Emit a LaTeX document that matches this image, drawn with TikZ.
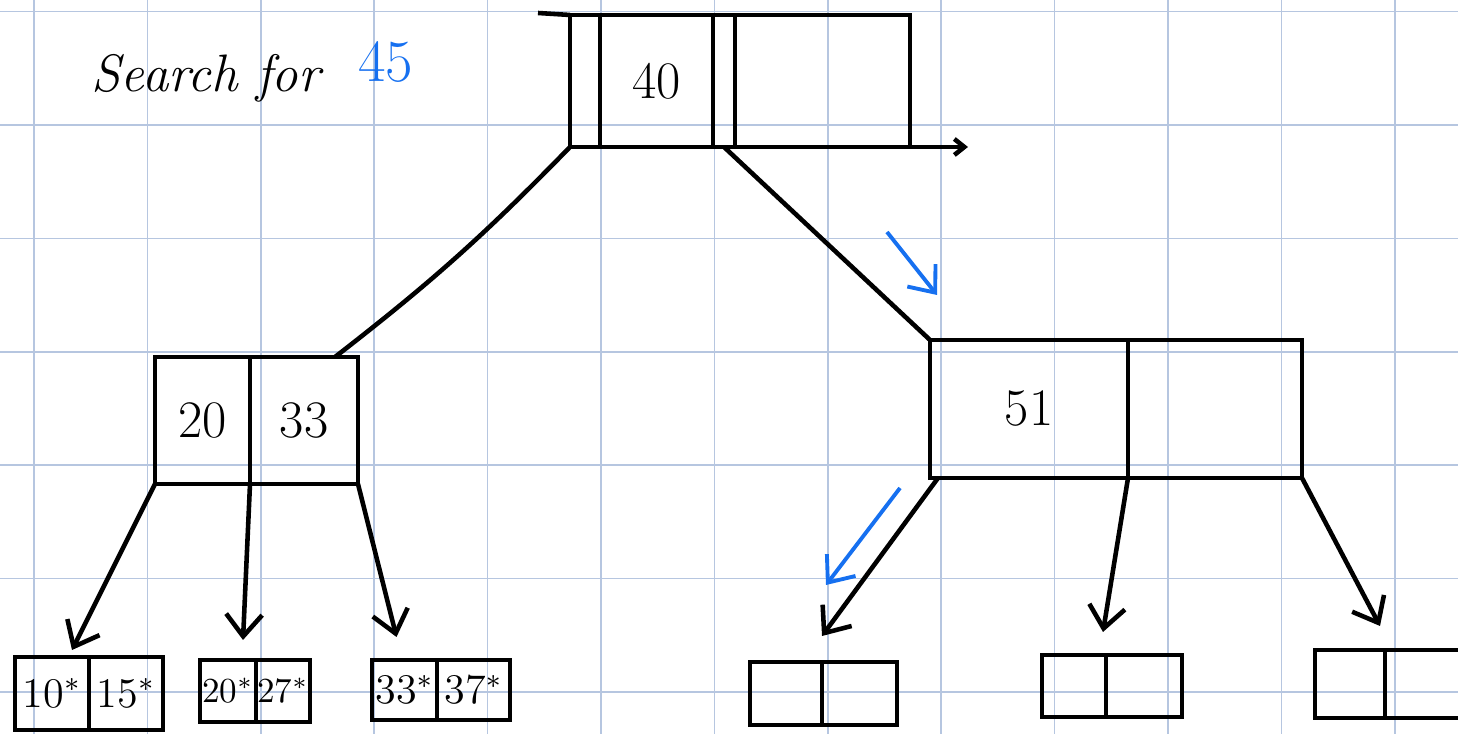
\documentclass[tikz,border=0pt]{standalone}
\usetikzlibrary{positioning,arrows.meta}
\definecolor{gridblue}{RGB}{182,198,224}
\definecolor{penblue}{RGB}{22,112,240}

\begin{document}
\begin{tikzpicture}[line width=1.3pt,>={Straight Barb[length=2.2mm,width=3.6mm]},
  cell/.style={draw,rectangle,inner sep=0pt,outer sep=0pt,font=\fontsize{15}{18}\selectfont},
  rootcell/.style={cell,minimum height=1.32cm},
  leaf/.style={draw,rectangle,inner sep=0pt,outer sep=0pt,font=\fontsize{12}{14}\selectfont},
  hint/.style={->,penblue,line width=1.1pt}]
\useasboundingbox (0,0) rectangle (14.58,7.34);
% grid paper
\foreach \gx in {0.34,1.474,...,14.5}
  \draw[gridblue,line width=0.5pt] (\gx,0) -- (\gx,7.34);
\foreach \gy in {0.42,1.554,...,7.3}
  \draw[gridblue,line width=0.5pt] (0,\gy) -- (14.58,\gy);

\node[font=\fontsize{15}{18}\selectfont\itshape] (search) at (2.06,6.56) {Search for};
\node[penblue,font=\fontsize{17}{20}\selectfont,right=0.1cm of search,yshift=0.16cm] (query) {45};

% root
\node[rootcell,minimum width=0.30cm] (r1) at (5.85,6.53) {};
\node[rootcell,minimum width=1.13cm,right=0pt of r1] (r2) {40};
\node[rootcell,minimum width=0.22cm,right=0pt of r2] (r3) {};
\node[rootcell,minimum width=1.75cm,right=0pt of r3] (r4) {};
\draw (r1.north west) -- ++(-0.32,0.02);
\draw[->,>={Straight Barb[length=1mm,width=1.6mm]}] (r4.south east) -- ++(0.58,0);

% inner nodes
\node[cell,minimum width=0.95cm,minimum height=1.27cm] (l20) at (2.025,3.135) {20};
\node[cell,minimum width=1.08cm,minimum height=1.27cm,right=0pt of l20] (l33) {33};
\node[cell,minimum width=1.98cm,minimum height=1.38cm] (n51) at (10.29,3.25) {51};
\node[cell,minimum width=1.74cm,minimum height=1.38cm,right=0pt of n51] (nE) {};

% leaves
\node[leaf,minimum width=0.74cm,minimum height=0.73cm] (k10) at (0.52,0.405) {10$^*$};
\node[leaf,minimum width=0.74cm,minimum height=0.73cm,right=0pt of k10] (k15) {15$^*$};
\node[leaf,font=\normalsize,minimum width=0.56cm,minimum height=0.62cm] (k20) at (2.28,0.43) {20$^*$};
\node[leaf,font=\normalsize,minimum width=0.54cm,minimum height=0.62cm,right=0pt of k20] (k27) {27$^*$};
\node[leaf,minimum width=0.65cm,minimum height=0.60cm] (k33) at (4.045,0.44) {33$^*$};
\node[leaf,minimum width=0.73cm,minimum height=0.60cm,right=0pt of k33] (k37) {37$^*$};
\node[leaf,minimum width=0.72cm,minimum height=0.63cm] (e1) at (7.86,0.405) {};
\node[leaf,minimum width=0.75cm,minimum height=0.63cm,right=0pt of e1] (e2) {};
\node[leaf,minimum width=0.64cm,minimum height=0.62cm] (f1) at (10.74,0.48) {};
\node[leaf,minimum width=0.76cm,minimum height=0.62cm,right=0pt of f1] (f2) {};
\node[leaf,minimum width=0.70cm,minimum height=0.68cm] (g1) at (13.50,0.50) {};
\node[leaf,minimum width=0.85cm,minimum height=0.68cm,right=0pt of g1] (g2) {};

% tree edges
\draw (r1.south west) to[bend left=4] ([xshift=-2.3mm]l33.north east);
\draw (r3.south) -- (n51.north west);
\draw[->] (l20.south west) -- ([xshift=2mm,yshift=0.7mm]k10.north);
\draw[->] (l20.south east) -- ([xshift=-1.3mm,yshift=2mm]k27.north west);
\draw[->] (l33.south east) -- ([xshift=-0.8mm,yshift=2.3mm]k33.north);
\draw[->] ([xshift=0.8mm]n51.south west) -- ([yshift=2.6mm]e1.north east);
\draw[->] (n51.south east) -- ([xshift=-0.3mm,yshift=2.3mm]f1.north east);
\draw[->] (nE.south east) -- ([xshift=-0.5mm,yshift=2.4mm]g1.north east);

% search path
\coordinate (h1a) at (8.87,5.02);
\coordinate (h1b) at (9.37,4.39);
\coordinate (h2a) at (9.00,2.46);
\coordinate (h2b) at (8.26,1.49);
\draw[hint] (h1a) -- (h1b);
\draw[hint] (h2a) -- (h2b);
\end{tikzpicture}
\end{document}
